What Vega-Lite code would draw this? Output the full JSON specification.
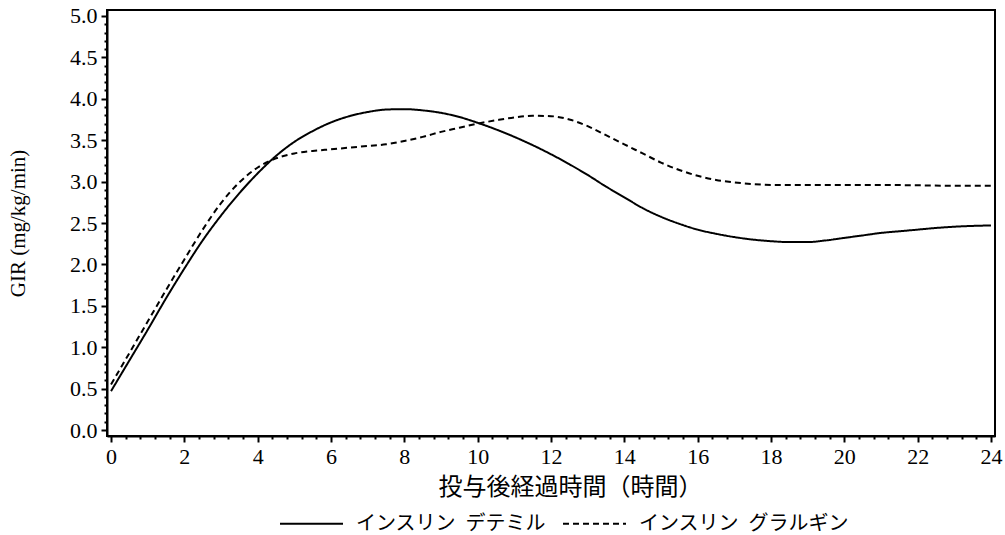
{
  "$schema": "https://vega.github.io/schema/vega-lite/v6.json",
  "width": 888,
  "height": 426,
  "autosize": {"type": "none"},
  "padding": {"left": 107, "top": 10, "right": 10, "bottom": 99},
  "background": "white",
  "config": {
    "view": {"stroke": "black", "strokeWidth": 2},
    "axis": {
      "domainColor": "black", "domainWidth": 2, "tickColor": "black", "tickWidth": 2,
      "labelColor": "black", "labelFont": "Liberation Serif", "labelFontSize": 22,
      "titleColor": "black", "titleFontWeight": "normal", "grid": false
    }
  },
  "datasets": {
    "gir": [
      {"series": "インスリン\u2002デテミル", "time": 0, "gir": 0.47},
      {"series": "インスリン\u2002デテミル", "time": 0.5, "gir": 0.84},
      {"series": "インスリン\u2002デテミル", "time": 1, "gir": 1.21},
      {"series": "インスリン\u2002デテミル", "time": 1.5, "gir": 1.59},
      {"series": "インスリン\u2002デテミル", "time": 2, "gir": 1.95},
      {"series": "インスリン\u2002デテミル", "time": 2.5, "gir": 2.29},
      {"series": "インスリン\u2002デテミル", "time": 3, "gir": 2.59},
      {"series": "インスリン\u2002デテミル", "time": 3.5, "gir": 2.86},
      {"series": "インスリン\u2002デテミル", "time": 4, "gir": 3.10},
      {"series": "インスリン\u2002デテミル", "time": 4.5, "gir": 3.31},
      {"series": "インスリン\u2002デテミル", "time": 5, "gir": 3.48},
      {"series": "インスリン\u2002デテミル", "time": 5.5, "gir": 3.61},
      {"series": "インスリン\u2002デテミル", "time": 6, "gir": 3.715},
      {"series": "インスリン\u2002デテミル", "time": 6.5, "gir": 3.79},
      {"series": "インスリン\u2002デテミル", "time": 7, "gir": 3.84},
      {"series": "インスリン\u2002デテミル", "time": 7.5, "gir": 3.87},
      {"series": "インスリン\u2002デテミル", "time": 8, "gir": 3.875},
      {"series": "インスリン\u2002デテミル", "time": 8.5, "gir": 3.86},
      {"series": "インスリン\u2002デテミル", "time": 9, "gir": 3.83},
      {"series": "インスリン\u2002デテミル", "time": 9.5, "gir": 3.78},
      {"series": "インスリン\u2002デテミル", "time": 10, "gir": 3.71},
      {"series": "インスリン\u2002デテミル", "time": 10.5, "gir": 3.63},
      {"series": "インスリン\u2002デテミル", "time": 11, "gir": 3.54},
      {"series": "インスリン\u2002デテミル", "time": 11.5, "gir": 3.44},
      {"series": "インスリン\u2002デテミル", "time": 12, "gir": 3.33},
      {"series": "インスリン\u2002デテミル", "time": 12.5, "gir": 3.21},
      {"series": "インスリン\u2002デテミル", "time": 13, "gir": 3.08},
      {"series": "インスリン\u2002デテミル", "time": 13.5, "gir": 2.94},
      {"series": "インスリン\u2002デテミル", "time": 14, "gir": 2.81},
      {"series": "インスリン\u2002デテミル", "time": 14.5, "gir": 2.68},
      {"series": "インスリン\u2002デテミル", "time": 15, "gir": 2.575},
      {"series": "インスリン\u2002デテミル", "time": 15.5, "gir": 2.49},
      {"series": "インスリン\u2002デテミル", "time": 16, "gir": 2.42},
      {"series": "インスリン\u2002デテミル", "time": 16.5, "gir": 2.37},
      {"series": "インスリン\u2002デテミル", "time": 17, "gir": 2.33},
      {"series": "インスリン\u2002デテミル", "time": 17.5, "gir": 2.30},
      {"series": "インスリン\u2002デテミル", "time": 18, "gir": 2.28},
      {"series": "インスリン\u2002デテミル", "time": 18.5, "gir": 2.27},
      {"series": "インスリン\u2002デテミル", "time": 19, "gir": 2.27},
      {"series": "インスリン\u2002デテミル", "time": 19.5, "gir": 2.29},
      {"series": "インスリン\u2002デテミル", "time": 20, "gir": 2.32},
      {"series": "インスリン\u2002デテミル", "time": 20.5, "gir": 2.35},
      {"series": "インスリン\u2002デテミル", "time": 21, "gir": 2.38},
      {"series": "インスリン\u2002デテミル", "time": 21.5, "gir": 2.40},
      {"series": "インスリン\u2002デテミル", "time": 22, "gir": 2.42},
      {"series": "インスリン\u2002デテミル", "time": 22.5, "gir": 2.44},
      {"series": "インスリン\u2002デテミル", "time": 23, "gir": 2.455},
      {"series": "インスリン\u2002デテミル", "time": 23.5, "gir": 2.465},
      {"series": "インスリン\u2002デテミル", "time": 24, "gir": 2.47},
      {"series": "インスリン\u2002グラルギン", "time": 0, "gir": 0.55},
      {"series": "インスリン\u2002グラルギン", "time": 0.5, "gir": 0.93},
      {"series": "インスリン\u2002グラルギン", "time": 1, "gir": 1.31},
      {"series": "インスリン\u2002グラルギン", "time": 1.5, "gir": 1.69},
      {"series": "インスリン\u2002グラルギン", "time": 2, "gir": 2.06},
      {"series": "インスリン\u2002グラルギン", "time": 2.5, "gir": 2.42},
      {"series": "インスリン\u2002グラルギン", "time": 3, "gir": 2.74},
      {"series": "インスリン\u2002グラルギン", "time": 3.5, "gir": 2.99},
      {"series": "インスリン\u2002グラルギン", "time": 4, "gir": 3.17},
      {"series": "インスリン\u2002グラルギン", "time": 4.5, "gir": 3.28},
      {"series": "インスリン\u2002グラルギン", "time": 5, "gir": 3.34},
      {"series": "インスリン\u2002グラルギン", "time": 5.5, "gir": 3.37},
      {"series": "インスリン\u2002グラルギン", "time": 6, "gir": 3.39},
      {"series": "インスリン\u2002グラルギン", "time": 6.5, "gir": 3.41},
      {"series": "インスリン\u2002グラルギン", "time": 7, "gir": 3.43},
      {"series": "インスリン\u2002グラルギン", "time": 7.5, "gir": 3.45},
      {"series": "インスリン\u2002グラルギン", "time": 8, "gir": 3.49},
      {"series": "インスリン\u2002グラルギン", "time": 8.5, "gir": 3.54},
      {"series": "インスリン\u2002グラルギン", "time": 9, "gir": 3.60},
      {"series": "インスリン\u2002グラルギン", "time": 9.5, "gir": 3.65},
      {"series": "インスリン\u2002グラルギン", "time": 10, "gir": 3.70},
      {"series": "インスリン\u2002グラルギン", "time": 10.5, "gir": 3.74},
      {"series": "インスリン\u2002グラルギン", "time": 11, "gir": 3.775},
      {"series": "インスリン\u2002グラルギン", "time": 11.5, "gir": 3.795},
      {"series": "インスリン\u2002グラルギン", "time": 12, "gir": 3.79},
      {"series": "インスリン\u2002グラルギン", "time": 12.5, "gir": 3.75},
      {"series": "インスリン\u2002グラルギン", "time": 13, "gir": 3.67},
      {"series": "インスリン\u2002グラルギン", "time": 13.5, "gir": 3.56},
      {"series": "インスリン\u2002グラルギン", "time": 14, "gir": 3.45},
      {"series": "インスリン\u2002グラルギン", "time": 14.5, "gir": 3.34},
      {"series": "インスリン\u2002グラルギン", "time": 15, "gir": 3.23},
      {"series": "インスリン\u2002グラルギン", "time": 15.5, "gir": 3.14},
      {"series": "インスリン\u2002グラルギン", "time": 16, "gir": 3.07},
      {"series": "インスリン\u2002グラルギン", "time": 16.5, "gir": 3.02},
      {"series": "インスリン\u2002グラルギン", "time": 17, "gir": 2.99},
      {"series": "インスリン\u2002グラルギン", "time": 17.5, "gir": 2.97},
      {"series": "インスリン\u2002グラルギン", "time": 18, "gir": 2.96},
      {"series": "インスリン\u2002グラルギン", "time": 19, "gir": 2.96},
      {"series": "インスリン\u2002グラルギン", "time": 20, "gir": 2.96},
      {"series": "インスリン\u2002グラルギン", "time": 21, "gir": 2.96},
      {"series": "インスリン\u2002グラルギン", "time": 22, "gir": 2.955},
      {"series": "インスリン\u2002グラルギン", "time": 23, "gir": 2.95},
      {"series": "インスリン\u2002グラルギン", "time": 24, "gir": 2.95}
    ]
  },
  "data": {"name": "gir"},
  "layer": [
    {
      "mark": {"type": "line", "strokeWidth": 2, "color": "black", "interpolate": "monotone"},
      "encoding": {
        "x": {
          "field": "time", "type": "quantitative",
          "scale": {"domain": [-0.11, 24.11], "nice": false, "zero": false},
          "axis": {
            "values": [0, 2, 4, 6, 8, 10, 12, 14, 16, 18, 20, 22, 24],
            "labelFont": "Liberation Serif", "labelFontSize": 22, "labelColor": "black",
            "tickSize": 6, "labelPadding": 4, "labelFlush": false, "labelOverlap": false,
            "title": "投与後経過時間（時間）", "titleFont": "Noto Sans CJK JP", "titleFontSize": 24,
            "titlePadding": 8, "titleX": 463
          }
        },
        "y": {
          "field": "gir", "type": "quantitative",
          "scale": {"domain": [-0.072, 5.072], "nice": false, "zero": false},
          "axis": {
            "values": [0, 0.5, 1, 1.5, 2, 2.5, 3, 3.5, 4, 4.5, 5],
            "labelFont": "Liberation Serif", "labelFontSize": 22, "labelColor": "black",
            "format": ".1f", "tickSize": 6, "labelPadding": 4, "labelFlush": false, "labelOverlap": false,
            "title": "GIR (mg/kg/min)", "titleFont": "Liberation Serif", "titleFontSize": 21,
            "titlePadding": 41
          }
        },
        "strokeDash": {
          "field": "series", "type": "nominal",
          "scale": {"domain": ["インスリン\u2002デテミル", "インスリン\u2002グラルギン"], "range": [[1, 0], [6, 4]]},
          "legend": {
            "title": null, "orient": "none", "direction": "horizontal",
            "legendX": 193, "legendY": 502,
            "symbolType": "M-3,0H3", "symbolSize": 441, "symbolStrokeWidth": 2, "symbolStrokeColor": "black",
            "symbolFillColor": "transparent",
            "labelFont": "Noto Sans CJK JP", "labelFontSize": 20, "labelColor": "black",
            "labelOffset": 33, "columnPadding": 13, "labelLimit": 400
          }
        }
      }
    },
    {
      "mark": {"type": "line", "opacity": 0},
      "encoding": {
        "x": {
          "field": "time", "type": "quantitative",
          "axis": {
            "orient": "bottom",
            "values": [0.4, 0.8, 1.2, 1.6, 2.4, 2.8, 3.2, 3.6, 4.4, 4.8, 5.2, 5.6, 6.4, 6.8, 7.2, 7.6, 8.4, 8.8, 9.2, 9.6, 10.4, 10.8, 11.2, 11.6, 12.4, 12.8, 13.2, 13.6, 14.4, 14.8, 15.2, 15.6, 16.4, 16.8, 17.2, 17.6, 18.4, 18.8, 19.2, 19.6, 20.4, 20.8, 21.2, 21.6, 22.4, 22.8, 23.2, 23.6],
            "labels": false, "domain": false, "tickSize": 3, "title": null
          }
        },
        "y": {
          "field": "gir", "type": "quantitative",
          "axis": {
            "orient": "left",
            "values": [0.1, 0.2, 0.3, 0.4, 0.6, 0.7, 0.8, 0.9, 1.1, 1.2, 1.3, 1.4, 1.6, 1.7, 1.8, 1.9, 2.1, 2.2, 2.3, 2.4, 2.6, 2.7, 2.8, 2.9, 3.1, 3.2, 3.3, 3.4, 3.6, 3.7, 3.8, 3.9, 4.1, 4.2, 4.3, 4.4, 4.6, 4.7, 4.8, 4.9],
            "labels": false, "domain": false, "tickSize": 3, "title": null
          }
        },
        "detail": {"field": "series"}
      }
    }
  ],
  "resolve": {"axis": {"x": "independent", "y": "independent"}}
}
